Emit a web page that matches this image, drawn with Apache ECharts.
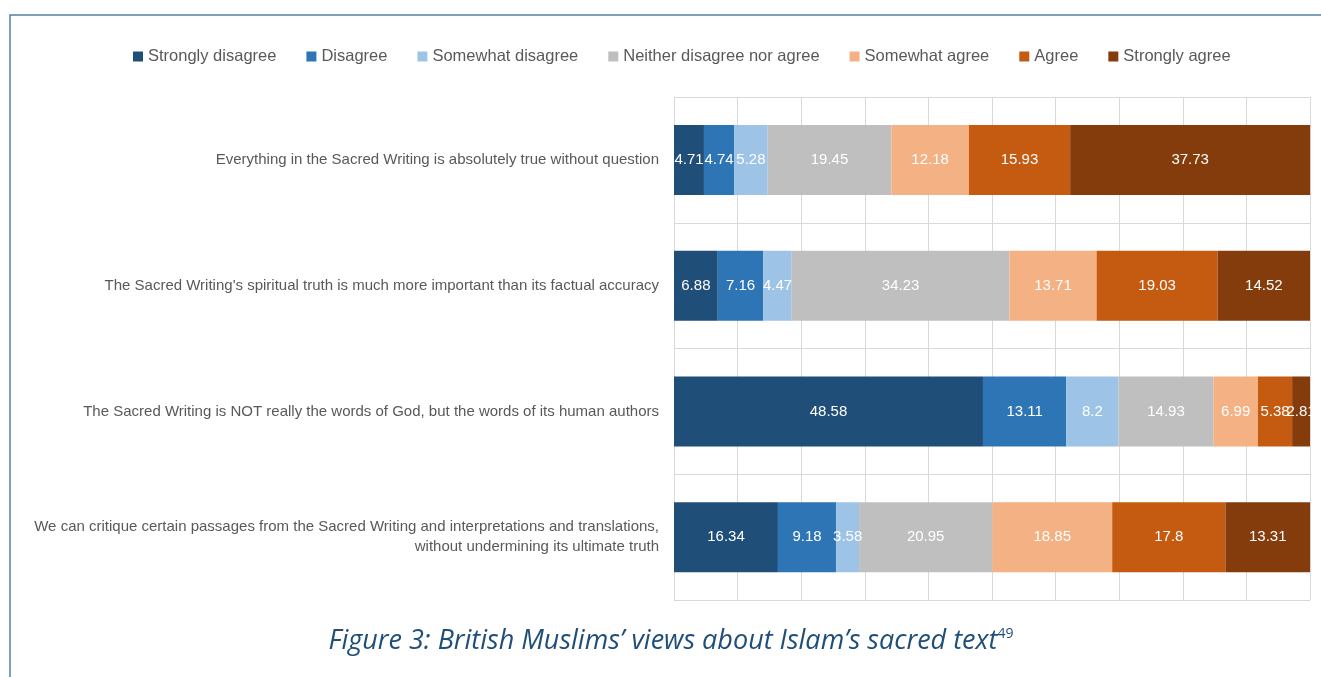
<!DOCTYPE html>
<html lang="en">
<head>
    <meta charset="utf-8" />
    <title>British Muslims' views about Islam's sacred text</title>
    <script src="https://cdn.jsdelivr.net/npm/echarts@6/dist/echarts.min.js"></script>
    <style>
        html, body { margin: 0; padding: 0; background: #fff; }
    </style>
</head>
<body>
<div id="main" style="width: 1321px;height:677px;"></div>
<script type="text/javascript">
    // statements, top to bottom
    var statements = [
        'Everything in the Sacred Writing is absolutely true without question',
        "The Sacred Writing's spiritual truth is much more important than its factual accuracy",
        'The Sacred Writing is NOT really the words of God, but the words of its human authors',
        'We can critique certain passages from the Sacred Writing and interpretations and translations,\nwithout undermining its ultimate truth'
    ];
    var answers = ['Strongly disagree', 'Disagree', 'Somewhat disagree', 'Neither disagree nor agree',
                   'Somewhat agree', 'Agree', 'Strongly agree'];
    var colors = ['#1f4e79', '#2e75b6', '#9dc3e6', '#bfbfbf', '#f4b183', '#c55a11', '#843c0c'];

    // percentages per answer, one value per statement
    var stronglyDisagree = [4.71, 6.88, 48.58, 16.34];
    var disagree         = [4.74, 7.16, 13.11, 9.18];
    var somewhatDisagree = [5.28, 4.47, 8.2, 3.58];
    var neither          = [19.45, 34.23, 14.93, 20.95];
    var somewhatAgree    = [12.18, 13.71, 6.99, 18.85];
    var agree            = [15.93, 19.03, 5.38, 17.8];
    var stronglyAgree    = [37.73, 14.52, 2.81, 13.31];

    var values = [stronglyDisagree, disagree, somewhatDisagree, neither, somewhatAgree, agree, stronglyAgree];

    var myChart = echarts.init(document.getElementById('main'), null, {renderer: 'canvas'});

    var series = answers.map(function (name, i) {
        return {
            name: name,
            type: 'bar',
            stack: 'total',
            barWidth: 70,
            clip: false,
            itemStyle: { color: colors[i] },
            label: {
                show: true,
                color: '#fff',
                fontSize: 15,
                fontFamily: 'Liberation Sans'
            },
            data: values[i]
        };
    });

    var option = {
        animation: false,
        legend: {
            top: 43,
            left: 128,
            itemWidth: 10,
            itemHeight: 10,
            itemGap: 30,
            icon: 'rect',
            textStyle: { fontSize: 16.5, color: '#595959', fontFamily: 'Liberation Sans' },
            data: answers
        },
        grid: { left: 674, right: 11, top: 97, bottom: 77, containLabel: false },
        xAxis: {
            type: 'value',
            min: 0,
            max: 100,
            interval: 10,
            axisLabel: { show: false },
            axisLine: { show: false },
            axisTick: { show: false },
            splitLine: { lineStyle: { color: '#d9d9d9', width: 1 } }
        },
        yAxis: {
            type: 'category',
            inverse: true,
            data: statements,
            axisLine: { show: true, lineStyle: { color: '#d9d9d9' } },
            axisTick: { show: false },
            splitLine: { show: true, lineStyle: { color: '#d9d9d9', width: 1 } },
            axisLabel: {
                margin: 15,
                fontSize: 15,
                color: '#595959',
                fontFamily: 'Liberation Sans',
                align: 'right',
                lineHeight: 20
            }
        },
        graphic: [
            {
                // frame of the figure
                type: 'polyline',
                shape: { points: [[10, 677], [10, 15], [1321, 15]] },
                style: { stroke: '#4f81a8', lineWidth: 1.5, fill: null }
            },
            {
                type: 'text',
                x: 671,
                y: 641,
                style: {
                    text: "{t|Figure 3: British Muslims\u2019 views about Islam\u2019s sacred text}{s|49}",
                    align: 'center',
                    verticalAlign: 'middle',
                    rich: {
                        t: { fontSize: 27, fontStyle: 'italic', fontFamily: 'Open Sans', fill: '#1f4e79', color: '#1f4e79' },
                        s: { fontSize: 14, fontFamily: 'Open Sans', fill: '#1f4e79', color: '#1f4e79', verticalAlign: 'top', padding: [0, 0, 14, 0] }
                    }
                }
            }
        ],
        series: series
    };
    myChart.setOption(option);
</script>
</body>
</html>
